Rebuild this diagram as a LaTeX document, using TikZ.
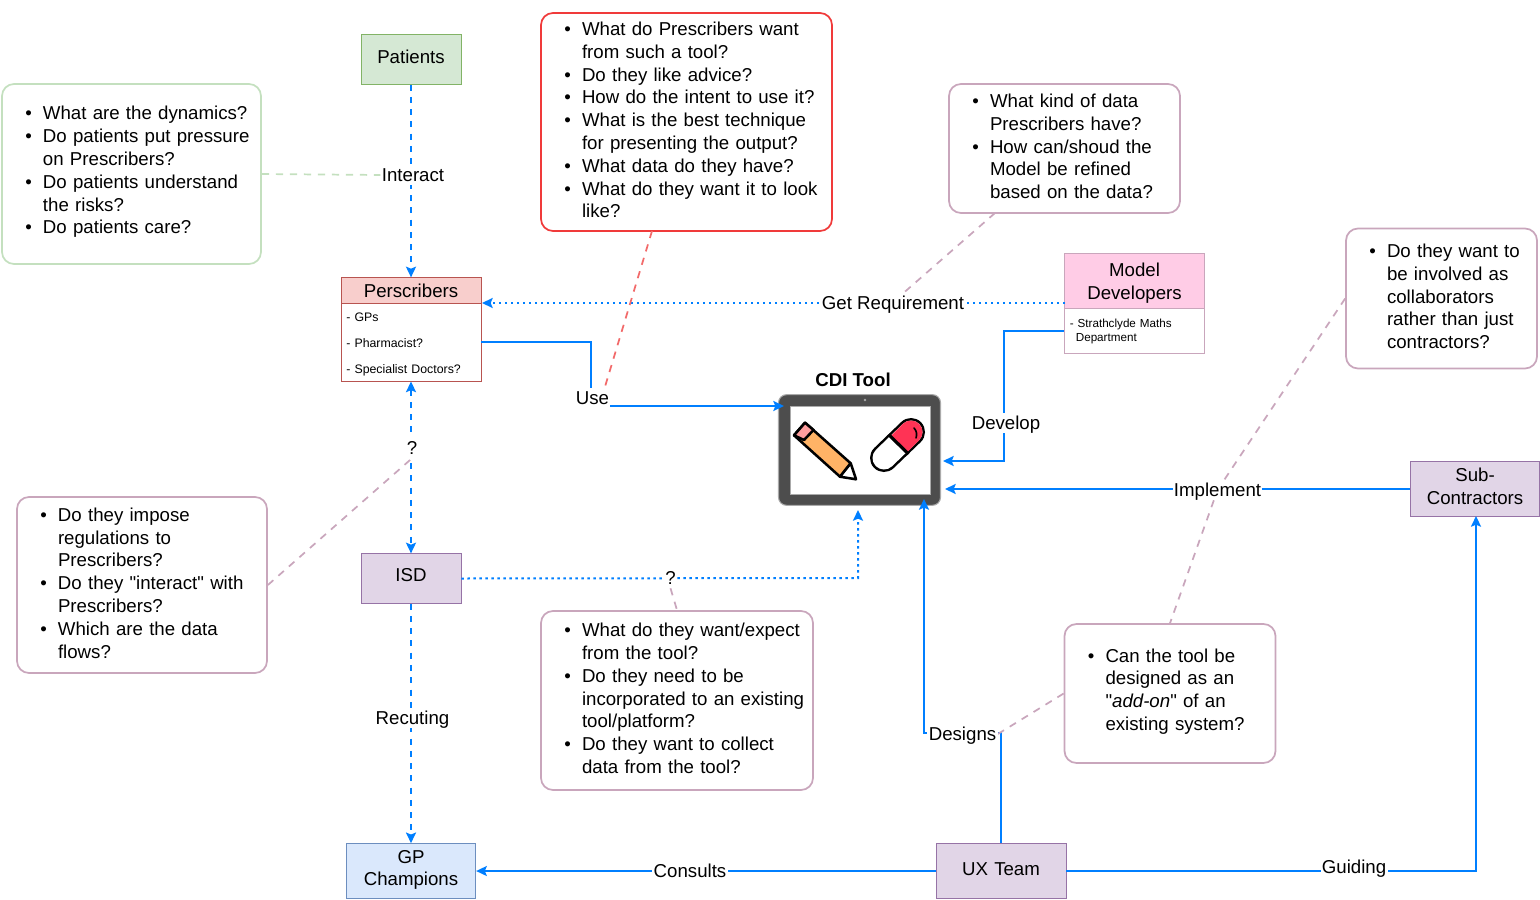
\documentclass[tikz,border=0pt]{standalone}
\usepackage{fontspec}
\setmainfont{Liberation Sans}
\usetikzlibrary{arrows.meta}

\definecolor{linkblue}{HTML}{007FFF}
\definecolor{mauve}{HTML}{C9A6BC}
\definecolor{palegreen}{HTML}{C4E0BF}
\definecolor{notered}{HTML}{F03A3A}
\definecolor{hintred}{HTML}{F26A6A}
\definecolor{greenfill}{HTML}{D5E8D4}
\definecolor{greenline}{HTML}{82B366}
\definecolor{redfill}{HTML}{F8CECC}
\definecolor{redline}{HTML}{B85450}
\definecolor{purplefill}{HTML}{E1D5E7}
\definecolor{purpleline}{HTML}{9673A6}
\definecolor{bluefill}{HTML}{DAE8FC}
\definecolor{blueline}{HTML}{6C8EBF}
\definecolor{pinkfill}{HTML}{FFCCE6}
\definecolor{tabletgrey}{HTML}{4D4D4D}
\definecolor{tabletedge}{HTML}{AAAAAA}
\definecolor{pencilbody}{HTML}{FFB366}
\definecolor{pencilend}{HTML}{FF9D9D}
\definecolor{pillred}{HTML}{FF3355}

\font\qfont="Liberation Sans" at 14pt
\newcommand{\qt}{{\qfont"}}
\newcommand{\itm}{\makebox[30.75pt][l]{\hspace{17.5pt}\textbullet}}
\newcommand{\cnt}{\hspace*{30.75pt}}

\pgfdeclarelayer{top}
\pgfsetlayers{main,top}

\tikzset{
    >={Stealth[length=8pt,width=7.5pt,inset=1.5pt]},
    lbl/.style={fill=white, inner xsep=1pt, inner ysep=2.5pt, text height=10pt, text depth=0pt, font=\fontsize{14}{17}\selectfont},
    uptext/.style={execute at end node={\par\vspace*{#1}}},
    actor/.style={draw, line width=.7pt, align=center, inner sep=0pt, font=\fontsize{14}{17}\selectfont},
    listbox/.style={draw, line width=.7pt, fill=white, align=left, inner xsep=4pt, inner ysep=0pt},
    note/.style={draw, rounded corners=9pt, line width=1.3pt, fill=white, align=left, inner sep=0pt, uptext=3pt, font=\fontsize{14}{17.1}\selectfont},
    conn/.style={draw=linkblue, line width=1.5pt},
    dashconn/.style={conn, dash pattern=on 4.5pt off 4.7pt},
    dotconn/.style={conn, dash pattern=on 1.8pt off 2.7pt},
    hint/.style={line width=1.3pt, dash pattern=on 5.5pt off 5pt},
}

\begin{document}
\begin{tikzpicture}[x=.75pt, y=-.75pt]
    \useasboundingbox (0,0) rectangle (1540,899);

    % actors
    \node[actor, fill=greenfill, draw=greenline, text width=75pt, minimum height=37pt, uptext=4.5pt] (patients) at (411,59.5) {Patients};
    \node[actor, fill=redfill, draw=redline, text width=105pt, minimum height=19pt] (perHead) at (411,290.5) {Perscribers};
    \node[listbox, font=\fontsize{9.25}{19.5}\selectfont, draw=redline, text width=97pt, minimum height=58.5pt, uptext=-3pt] (perBody) at (411,342) {- GPs\\- Pharmacist?\\- Specialist Doctors?};
    \node[actor, fill=purplefill, draw=purpleline, text width=75pt, minimum height=37pt, uptext=4.5pt] (isd) at (411,578.5) {ISD};
    \node[actor, fill=bluefill, draw=blueline, text width=97pt, minimum height=41pt, uptext=1.5pt] (gpChamp) at (411,871) {GP\\Champions};
    \node[actor, fill=purplefill, draw=purpleline, text width=97.5pt, minimum height=41pt, uptext=3pt] (uxTeam) at (1001,871) {UX Team};
    \node[actor, fill=purplefill, draw=purpleline, text width=97pt, minimum height=41pt, uptext=4.5pt] (subCon) at (1475,489) {Sub-\\Contractors};
    \node[actor, fill=pinkfill, draw=mauve, text width=105pt, minimum height=41pt, uptext=-3.5pt] (modHead) at (1134.5,281) {Model\\Developers};
    \node[listbox, font=\fontsize{8.75}{10.5}\selectfont, draw=mauve, text width=97pt, minimum height=34pt] (modBody) at (1134.5,331) {- Strathclyde Maths\\\hspace*{4.5pt}Department};

    % notes
    \node[note, draw=palegreen, minimum height=135pt, text width=194.25pt] (dynNote) at (131.5,174) {\itm What are the dynamics?\\\itm Do patients put pressure\\\cnt on Prescribers?\\\itm Do patients understand\\\cnt the risks?\\\itm Do patients care?};
    \node[note, draw=notered, minimum height=163.5pt, text width=218.25pt] (toolNote) at (686.5,122) {\itm What do Prescribers want\\\cnt from such a tool?\\\itm Do they like advice?\\\itm How do the intent to use it?\\\itm What is the best technique\\\cnt for presenting the output?\\\itm What data do they have?\\\itm What do they want it to look\\\cnt like?};
    \node[note, draw=mauve, minimum height=96.75pt, text width=173.25pt] (dataNote) at (1064.5,148.5) {\itm What kind of data\\\cnt Prescribers have?\\\itm How can/shoud the\\\cnt Model be refined\\\cnt based on the data?};
    \node[note, draw=mauve, minimum height=105pt, text width=143.25pt] (subNote) at (1441.5,298.5) {\itm Do they want to\\\cnt be involved as\\\cnt collaborators\\\cnt rather than just\\\cnt contractors?};
    \node[note, draw=mauve, minimum height=132pt, text width=187.5pt] (regNote) at (142,585) {\itm Do they impose\\\cnt regulations to\\\cnt Prescribers?\\\itm Do they \qt interact\qt{} with\\\cnt Prescribers?\\\itm Which are the data\\\cnt flows?};
    \node[note, draw=mauve, minimum height=134.25pt, text width=204pt] (expNote) at (677,700.5) {\itm What do they want/expect\\\cnt from the tool?\\\itm Do they need to be\\\cnt incorporated to an existing\\\cnt tool/platform?\\\itm Do they want to collect\\\cnt data from the tool?};
    \node[note, draw=mauve, minimum height=104.25pt, text width=158.25pt] (addNote) at (1170,693.5) {\itm Can the tool be\\\cnt designed as an\\\cnt \qt\textit{add-on}\qt{} of an\\\cnt existing system?};

    % tablet
    \node[draw=tabletedge, fill=tabletgrey, rounded corners=6pt, line width=.8pt, minimum width=121.5pt, minimum height=83pt, inner sep=0pt] (tablet) at (859.5,450) {};
    \filldraw[fill=white, draw=tabletedge, line width=.6pt] (790,406) rectangle (930,494);
    \fill[tabletedge] (865,400) circle (1.3);
    \node[font=\bfseries\fontsize{14}{17}\selectfont, inner sep=0pt] (toolTitle) at (853,380) {CDI Tool};

    % pencil
    \filldraw[fill=pencilbody, line width=1.9pt, line join=round] (805,422.7) -- (794,435.3) -- (840,476.7) -- (850.7,463.3) -- cycle;
    \filldraw[fill=pencilend, line width=1.9pt, line join=round] (805,422.7) -- (794,435.3) -- (804,440) -- (813.5,430) -- cycle;
    \filldraw[fill=white, line width=1.9pt, line join=round] (850.7,463.3) -- (840,476.7) -- (856,479.3) -- cycle;

    % pill
    \coordinate (pillTop) at (911,432);
    \coordinate (pillLow) at (884,458);
    \coordinate (pillMid) at (898.5,444.5);
    \draw[line width=21pt, line cap=round, black] (pillTop) -- (pillLow);
    \draw[line width=17.25pt, line cap=round, white] (pillTop) -- (pillLow);
    \fill[pillred] (pillTop) circle (11.5);
    \draw[line width=17.25pt, pillred] (pillTop) -- (pillMid);
    \draw[line width=2.4pt] (888.5,434.5) -- (908.5,454);
    \draw[line width=1.2pt, line cap=round] (914,428) .. controls (917,431) and (917,435) .. (916,438);

    % labels
    \begin{pgfonlayer}{top}
    \node[lbl] (interactLbl) at (413,175) {Interact};
    \node[lbl] (questLbl) at (412,448) {?};
    \node[lbl] (recLbl) at (412.5,718) {Recuting};
    \node[lbl] (useLbl) at (592.5,398) {Use};
    \node[lbl] (reqLbl) at (893,303) {Get Requirement};
    \node[lbl] (devLbl) at (1006,423) {Develop};
    \node[lbl] (implLbl) at (1217.5,490) {Implement};
    \node[lbl] (isdLbl) at (670.5,578) {?};
    \node[lbl] (desLbl) at (962.5,734) {Designs};
    \node[lbl] (consLbl) at (690,871) {Consults};
    \node[lbl] (guidLbl) at (1354,867) {Guiding};
    \end{pgfonlayer}

    \coordinate (useIn) at (784,406);
    \coordinate (useBend) at (591,406);
    \coordinate (devIn) at (943,461);
    \coordinate (devBend) at (1004,461);
    \coordinate (implIn) at (945,489);
    \coordinate (desIn) at (924,499);
    \coordinate (desHigh) at (924,733);
    \coordinate (desLow) at (1001,733);
    \coordinate (isdIn) at (858,510);
    \coordinate (isdBend) at (858,578);
    \coordinate (guidBend) at (1476,871);
    \coordinate (guidIn) at (1476,516);
    \coordinate (reqOut) at (1065,303);
    \coordinate (reqIn) at (482,303);
    \coordinate (toolFoot) at (652,231);
    \coordinate (useHead) at (604,390);
    \coordinate (dataFoot) at (995,213);
    \coordinate (reqHead) at (900,296);

    % connectors
    \draw[dashconn, ->] (patients) -- (perHead);
    \draw[dashconn, <->] (perBody) -- (isd);
    \draw[dashconn, ->] (isd) -- (gpChamp);
    \draw[conn, ->] (perBody.east) -| (useBend) -- (useIn);
    \draw[dotconn, ->] (reqOut) -- (reqIn);
    \draw[conn, ->] (modBody.west) -| (devBend) -- (devIn);
    \draw[conn, ->] (subCon.west) -- (implIn);
    \draw[dotconn, ->] (isd.east) -- (isdBend) -- (isdIn);
    \draw[conn, ->] (uxTeam.north) -- (desLow) -- (desHigh) -- (desIn);
    \draw[conn, ->] (uxTeam.west) -- (gpChamp.east);
    \draw[conn, ->] (uxTeam.east) -- (guidBend) -- (guidIn);

    % hints
    \draw[hint, palegreen] (dynNote.east) -- (interactLbl.west);
    \draw[hint, hintred] (toolFoot) -- (useHead);
    \draw[hint, mauve] (dataFoot) -- (reqHead);
    \draw[hint, mauve] (regNote.east) -- (questLbl.south);
    \draw[hint, mauve] (isdLbl.south) -- (expNote.north);
    \draw[hint, mauve] (subNote.west) -- (implLbl) -- (addNote.north);
    \draw[hint, mauve] (addNote.west) -- (desLbl.east);

\end{tikzpicture}
\end{document}
